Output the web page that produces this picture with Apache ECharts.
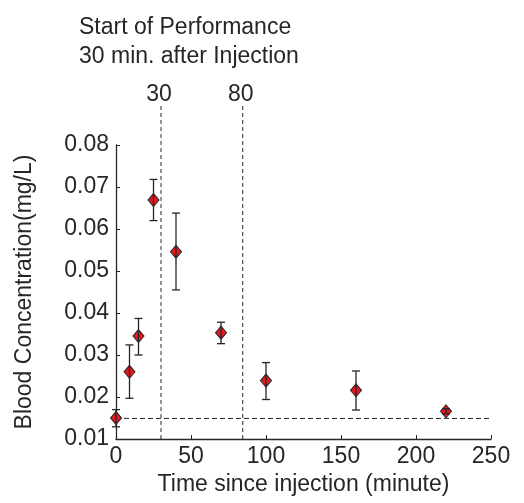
<!DOCTYPE html>
<html>
<head>
<meta charset="utf-8">
<script src="https://cdn.jsdelivr.net/npm/echarts@6/dist/echarts.min.js"></script>
<style>html,body{margin:0;padding:0;background:#fff;}#c{width:524px;height:503px;}</style>
</head>
<body>
<div id="c"></div>
<script>
// ---- data ----
var times = [0, 9, 15, 25, 40, 70, 100, 160, 220];
var means = [0.0150, 0.0260, 0.0345, 0.0669, 0.0546, 0.0353, 0.0239, 0.0216, 0.0166];
var upper = [0.0170, 0.0324, 0.0387, 0.0718, 0.0638, 0.0378, 0.0282, 0.0262, 0.0172];
var lower = [0.0129, 0.0197, 0.0300, 0.0620, 0.0455, 0.0327, 0.0194, 0.0169, 0.0160];
var markerTimes = [30, 84.5];
var markerLabels = ['30', '80'];
var markerTop = 0.0893;
var baseline = 0.0149;
var xTicks = [0, 50, 100, 150, 200, 250];
var yTicks = [0.01, 0.02, 0.03, 0.04, 0.05, 0.06, 0.07, 0.08];
var titleLines = ['Start of Performance', '30 min. after Injection'];
var xName = 'Time since injection (minute)';
var yName = 'Blood Concentration(mg/L)';

var FONT = 'Liberation Sans, Arial, Helvetica, sans-serif';
var INK = '#262626';
var FS = 23;

var scatterData = times.map(function (t, i) { return [t, means[i]]; });
var errData = times.map(function (t, i) { return [t, lower[i], upper[i]]; });
var vData = markerTimes.map(function (t, i) { return [t, i]; });

var chart = echarts.init(document.getElementById('c'), null, {renderer: 'canvas'});
chart.setOption({
  animation: false,
  backgroundColor: '#fff',
  title: {
    text: titleLines.join('\n'),
    left: 79, top: 13, padding: 0,
    textStyle: {fontFamily: FONT, fontSize: FS, fontWeight: 'normal', color: INK, lineHeight: 29}
  },
  grid: {left: 116, right: 33, top: 145, bottom: 64, containLabel: false},
  xAxis: {
    type: 'value', min: xTicks[0], max: xTicks[xTicks.length - 1], interval: 50,
    name: xName, nameLocation: 'middle', nameGap: 25,
    nameTextStyle: {fontFamily: FONT, fontSize: FS, color: INK},
    axisLine: {show: true, lineStyle: {color: INK, width: 1.3}},
    axisTick: {show: true, inside: true, length: 4, lineStyle: {color: INK}},
    axisLabel: {fontFamily: FONT, fontSize: FS, color: INK, margin: 6},
    splitLine: {show: false}
  },
  yAxis: {
    type: 'value', min: yTicks[0], max: yTicks[yTicks.length - 1], interval: 0.01,
    name: yName, nameLocation: 'middle', nameGap: 80, nameRotate: 90,
    nameTextStyle: {fontFamily: FONT, fontSize: FS, color: INK},
    axisLine: {show: true, lineStyle: {color: INK, width: 1.3}},
    axisTick: {show: true, inside: true, length: 4, lineStyle: {color: INK}},
    axisLabel: {fontFamily: FONT, fontSize: FS, color: INK, margin: 7,
      formatter: function (v) { return v.toFixed(2); }},
    splitLine: {show: false}
  },
  series: [
    {
      type: 'custom',
      clip: false,
      silent: true,
      z: 1,
      data: vData,
      renderItem: function (params, api) {
        var x = api.value(0);
        var idx = api.value(1);
        var p0 = api.coord([x, yTicks[0]]);
        var p1 = api.coord([x, markerTop]);
        return {
          type: 'group',
          children: [
            {type: 'line', shape: {x1: p0[0], y1: p0[1], x2: p1[0], y2: p1[1]},
             style: {stroke: INK, lineWidth: 1, lineDash: [4, 3]}},
            {type: 'text', x: p1[0] - 2, y: p1[1] - 11,
             style: {text: markerLabels[idx], fill: INK, font: FS + 'px ' + FONT,
                     align: 'center', verticalAlign: 'middle'}}
          ]
        };
      }
    },
    {
      type: 'custom',
      clip: false,
      silent: true,
      z: 1,
      data: [[baseline]],
      renderItem: function (params, api) {
        var y = api.value(0);
        var a = api.coord([xTicks[0], y]);
        var b = api.coord([xTicks[xTicks.length - 1], y]);
        return {type: 'line', shape: {x1: a[0], y1: a[1], x2: b[0], y2: b[1]},
                style: {stroke: INK, lineWidth: 1, lineDash: [5, 3]}};
      },
      encode: {y: 0}
    },
    {
      type: 'scatter',
      data: scatterData,
      symbol: 'diamond',
      symbolSize: [11, 13],
      z: 3,
      itemStyle: {color: '#e3191f', borderColor: INK, borderWidth: 1, opacity: 1}
    },
    {
      type: 'custom',
      z: 4,
      silent: true,
      clip: false,
      data: errData,
      renderItem: function (params, api) {
        var x = api.value(0);
        var lo = api.coord([x, api.value(1)]);
        var hi = api.coord([x, api.value(2)]);
        var hw = 4;
        var st = {stroke: INK, lineWidth: 1.3};
        return {
          type: 'group',
          children: [
            {type: 'line', shape: {x1: lo[0], y1: lo[1], x2: hi[0], y2: hi[1]}, style: st},
            {type: 'line', shape: {x1: lo[0] - hw, y1: lo[1], x2: lo[0] + hw, y2: lo[1]}, style: st},
            {type: 'line', shape: {x1: hi[0] - hw, y1: hi[1], x2: hi[0] + hw, y2: hi[1]}, style: st}
          ]
        };
      }
    }
  ]
});
</script>
</body>
</html>
